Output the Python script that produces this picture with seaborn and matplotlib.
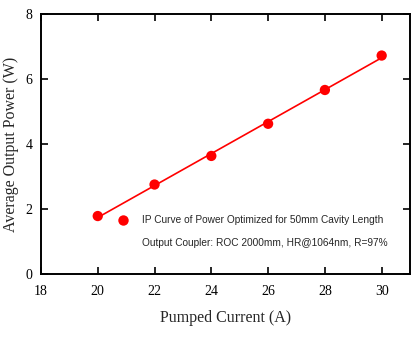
import matplotlib
matplotlib.use("Agg")
import matplotlib.pyplot as plt
import seaborn as sns
import pandas as pd
from matplotlib.lines import Line2D

current = [20, 22, 24, 26, 28, 30]
power = [1.78, 2.75, 3.63, 4.62, 5.66, 6.72]
legend_line1 = "IP Curve of Power Optimized for 50mm Cavity Length"
legend_line2 = "Output Coupler: ROC 2000mm, HR@1064nm, R=97%"

df = pd.DataFrame({"current": current, "power": power})

sns.set_theme(style="ticks")
plt.rcParams['font.family'] = ['Liberation Serif', 'DejaVu Serif']

fig = plt.figure(figsize=(4.18, 3.58), dpi=100)
ax = fig.add_axes([0.098, 0.235, 0.883, 0.726])

sns.regplot(data=df, x="current", y="power", ax=ax, ci=None, truncate=True,
            scatter_kws=dict(s=55, color="#ff0000", edgecolor="none", alpha=1, zorder=3),
            line_kws=dict(color="#ff0000", lw=1.2))

ax.set_xlim(18, 31)
ax.set_ylim(0, 8)
ax.set_xticks([18, 20, 22, 24, 26, 28, 30])
ax.set_yticks([0, 2, 4, 6, 8])
ax.tick_params(direction="in", top=True, right=True, length=5, width=1.2,
               labelsize=10, colors="black")
ax.tick_params(axis="x", pad=8)
ax.tick_params(axis="y", pad=6)
for s in ax.spines.values():
    s.set_linewidth(1.4)
    s.set_color("black")
ax.set_xlabel("Pumped Current (A)", fontsize=11.5, labelpad=9)
ax.set_ylabel("Average Output Power (W)", fontsize=11.5, labelpad=5)

handles = [Line2D([], [], marker="o", ls="none", color="#ff0000", markersize=7.5, markeredgewidth=0),
           Line2D([], [], ls="none", marker=None)]
leg = ax.legend(handles, [legend_line1, legend_line2], loc="lower left",
                bbox_to_anchor=(0.176, 0.063), frameon=False,
                prop=dict(family=['Liberation Sans', 'DejaVu Sans'], size=7.3),
                handletextpad=1.1, labelspacing=1.3, handlelength=1.6)

fig.savefig("out.png", dpi=100)
